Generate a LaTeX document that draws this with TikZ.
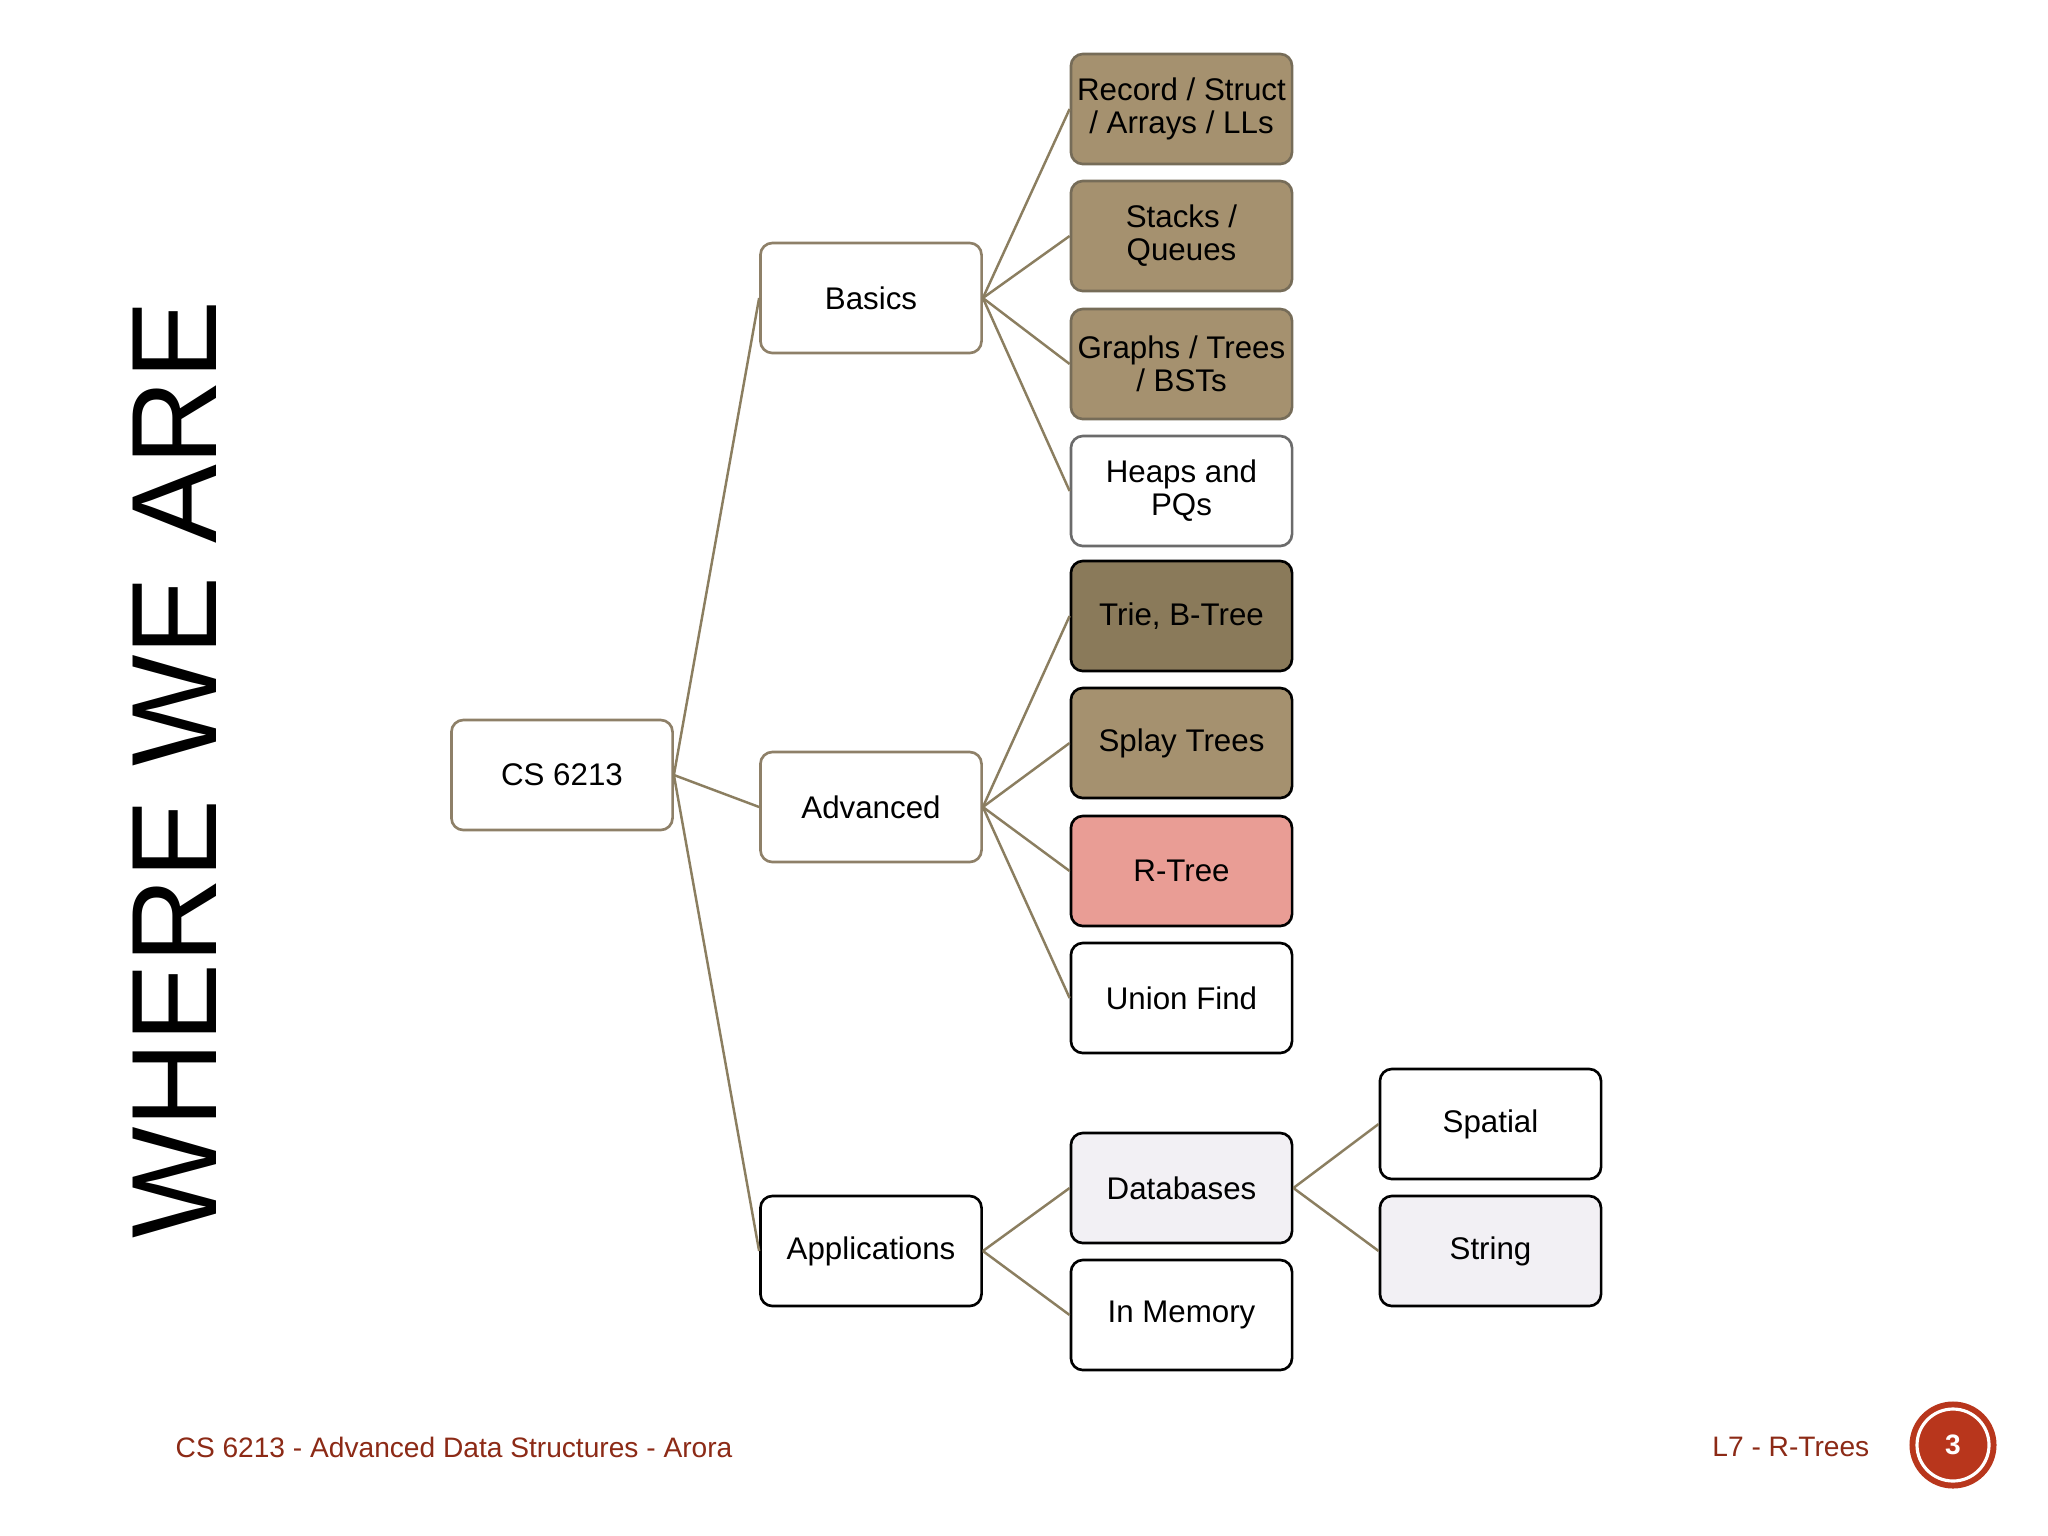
\documentclass[tikz,border=0pt]{standalone}
\usepackage{fontspec}
\setmainfont{Liberation Sans}
\definecolor{lineC}{RGB}{139,126,96}
\definecolor{tanB}{RGB}{142,128,104}
\definecolor{brownF}{RGB}{165,145,111}
\definecolor{brownB}{RGB}{118,108,88}
\definecolor{darkF}{RGB}{138,122,90}
\definecolor{pinkF}{RGB}{233,157,149}
\definecolor{lgF}{RGB}{242,240,244}
\definecolor{footC}{RGB}{140,42,22}
\definecolor{circF}{RGB}{184,54,28}
\begin{document}
\begin{tikzpicture}[x=0.01cm,y=-0.01cm,
  box/.style={rectangle, rounded corners=3.4pt, minimum width=2.21cm, minimum height=1.10cm,
    inner sep=0pt, align=center, line width=0.75pt, font=\fontsize{8.9}{9.4}\selectfont, text=black},
  tanbox/.style={box, draw=tanB, fill=white},
  brownbox/.style={box, draw=brownB, fill=brownF},
  graybox/.style={box, draw=black!58, fill=white},
  blackbox/.style={box, draw=black, fill=white},
  conn/.style={draw=lineC, line width=0.7pt}]
\useasboundingbox (0,0) rectangle (2048,1536);
\fill[white] (0,0) rectangle (2048,1536);
% title
\node[rotate=90, inner sep=0pt, font=\fontsize{34.5}{34.5}\selectfont] (title) at (175,770) {\scalebox{0.973}[1]{WHERE WE ARE}};
% nodes
\node[tanbox] (cs) at (562,775) {CS 6213};
\node[tanbox] (basics) at (871,298) {Basics};
\node[tanbox] (adv) at (871,807) {Advanced};
\node[blackbox] (app) at (871,1251) {Applications};
\node[brownbox] (rec) at (1181.5,109) {Record / Struct\\/ Arrays / LLs};
\node[brownbox] (stk) at (1181.5,236) {Stacks /\\Queues};
\node[brownbox] (gra) at (1181.5,364) {Graphs / Trees\\/ BSTs};
\node[graybox] (hea) at (1181.5,491) {Heaps and\\PQs};
\node[box, draw=black, fill=darkF] (tri) at (1181.5,616) {Trie, B-Tree};
\node[box, draw=black, fill=brownF] (spl) at (1181.5,743) {Splay Trees};
\node[box, draw=black, fill=pinkF] (rtr) at (1181.5,871) {R-Tree};
\node[blackbox] (uni) at (1181.5,998) {Union Find};
\node[box, draw=black, fill=lgF] (db) at (1181.5,1188) {Databases};
\node[blackbox] (mem) at (1181.5,1315) {In Memory};
\node[blackbox] (spa) at (1490.5,1124) {Spatial};
\node[box, draw=black, fill=lgF] (str) at (1490.5,1251) {String};
% connectors
\foreach \c in {basics,adv,app} \draw[conn] (cs.east) -- (\c.west);
\foreach \c in {rec,stk,gra,hea} \draw[conn] (basics.east) -- (\c.west);
\foreach \c in {tri,spl,rtr,uni} \draw[conn] (adv.east) -- (\c.west);
\foreach \c in {db,mem} \draw[conn] (app.east) -- (\c.west);
\foreach \c in {spa,str} \draw[conn] (db.east) -- (\c.west);
% footer
\node[anchor=west, inner sep=0pt, text=footC, font=\fontsize{8}{9}\selectfont] (foot) at (175,1447) {CS 6213 - Advanced Data Structures - Arora};
\node[anchor=east, inner sep=0pt, text=footC, font=\fontsize{8}{9}\selectfont] (lect) at (1870,1447) {L7 - R-Trees};
\node[circle, fill=circF, minimum size=0.87cm, inner sep=0pt] (pg) at (1953,1445) {};
\draw[white, line width=0.9pt] (pg.center) circle (36);
\node[text=white, font=\fontsize{8}{9}\selectfont\bfseries] (pgn) at (1953,1445) {3};
\end{tikzpicture}
\end{document}
